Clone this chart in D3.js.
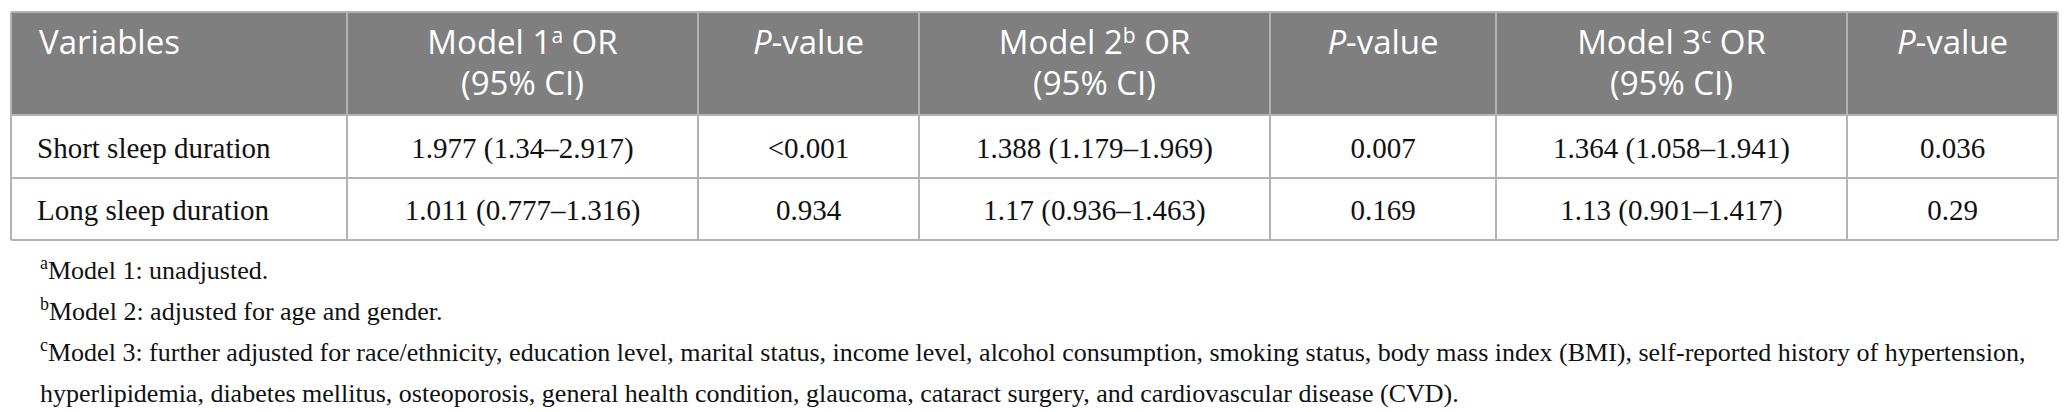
<!DOCTYPE html>
<html>
<head>
<meta charset="utf-8">
<script src="https://cdn.jsdelivr.net/npm/d3@7"></script>
<style>
  body { margin: 0; background: #fff; }
  svg { display: block; }
</style>
</head>
<body>
<svg id="tbl"></svg>
<script>
/* Odds ratios of sleep duration, three adjustment models */

// ---- data ----
const variables = ["Short sleep duration", "Long sleep duration"];
const model1OR = ["1.977 (1.34\u20132.917)", "1.011 (0.777\u20131.316)"];
const model1P = ["<0.001", "0.934"];
const model2OR = ["1.388 (1.179\u20131.969)", "1.17 (0.936\u20131.463)"];
const model2P = ["0.007", "0.169"];
const model3OR = ["1.364 (1.058\u20131.941)", "1.13 (0.901\u20131.417)"];
const model3P = ["0.036", "0.29"];

const headers = [
  { main: "Variables" },
  { main: "Model 1", sup: "a", rest: " OR", line2: "(95% CI)" },
  { italic: "P", main: "-value" },
  { main: "Model 2", sup: "b", rest: " OR", line2: "(95% CI)" },
  { italic: "P", main: "-value" },
  { main: "Model 3", sup: "c", rest: " OR", line2: "(95% CI)" },
  { italic: "P", main: "-value" }
];

const footnotes = [
  { sup: "a", text: "Model 1: unadjusted." },
  { sup: "b", text: "Model 2: adjusted for age and gender." },
  { sup: "c", text: "Model 3: further adjusted for race/ethnicity, education level, marital status, income level, alcohol consumption, smoking status, body mass index (BMI), self-reported history of hypertension," },
  { sup: "", text: "hyperlipidemia, diabetes mellitus, osteoporosis, general health condition, glaucoma, cataract surgery, and cardiovascular disease (CVD)." }
];

// ---- layout ----
let width = 2071,
    height = 412;
const tableLeft = 11,
      colWidths = [336, 351, 221, 351, 226, 351, 211],
      rowEdges = [12, 115, 178, 240],
      headFill = "#7f7f7f",
      lineColor = "#b3b3b3",
      headFont = "'Open Sans', 'DejaVu Sans', sans-serif",
      bodyFont = "'Liberation Serif', 'DejaVu Serif', serif";

const colEdges = [tableLeft, ...d3.cumsum(colWidths).map(d => d + tableLeft)];
const tableRight = colEdges[colEdges.length - 1];

const rows = variables.map((v, i) =>
  [v, model1OR[i], model1P[i], model2OR[i], model2P[i], model3OR[i], model3P[i]]);

const x = d3.scaleOrdinal().domain(d3.range(colWidths.length + 1)).range(colEdges);
const y = d3.scaleOrdinal().domain(d3.range(rowEdges.length)).range(rowEdges);

const svg = d3.select("#tbl")
  .attr("width", width)
  .attr("height", height);

// header background
svg.append("rect")
  .attr("x", tableLeft)
  .attr("y", y(0))
  .attr("width", tableRight - tableLeft)
  .attr("height", y(1) - y(0))
  .attr("fill", headFill);

// header text
const head = svg.append("g")
  .attr("font-family", headFont)
  .attr("font-size", "33px")
  .attr("fill", "#fff");

headers.forEach((h, c) => {
  const left = c === 0;
  const cx = left ? x(c) + 28 : (x(c) + x(c + 1)) / 2;
  const t = head.append("text")
    .attr("x", cx)
    .attr("y", y(0) + 42)
    .attr("text-anchor", left ? "start" : "middle");
  if (h.italic) t.append("tspan").attr("font-style", "italic").text(h.italic);
  t.append("tspan").text(h.main);
  if (h.sup) {
    t.append("tspan").attr("font-size", "21px").attr("dy", "-11").text(h.sup);
    t.append("tspan").attr("dy", "11").text(h.rest);
  }
  if (h.line2) {
    head.append("text")
      .attr("x", cx)
      .attr("y", y(0) + 83)
      .attr("text-anchor", "middle")
      .text(h.line2);
  }
});

// body cells
const body = svg.append("g")
  .attr("font-family", bodyFont)
  .attr("font-size", "29px")
  .attr("fill", "#111");

rows.forEach((r, i) => {
  const yMid = (y(i + 1) + y(i + 2)) / 2;
  body.selectAll(null)
    .data(r)
    .join("text")
    .attr("x", (d, c) => c === 0 ? x(c) + 26 : (x(c) + x(c + 1)) / 2)
    .attr("y", yMid + 11)
    .attr("text-anchor", (d, c) => c === 0 ? "start" : "middle")
    .text(d => d);
});

// grid lines
const grid = svg.append("g")
  .attr("stroke", lineColor)
  .attr("stroke-width", 2)
  .attr("fill", "none");

grid.selectAll("line.h")
  .data(rowEdges)
  .join("line")
  .attr("class", "h")
  .attr("x1", tableLeft)
  .attr("x2", tableRight)
  .attr("y1", d => d)
  .attr("y2", d => d);

grid.selectAll("line.v")
  .data(colEdges)
  .join("line")
  .attr("class", "v")
  .attr("x1", d => d)
  .attr("x2", d => d)
  .attr("y1", y(0))
  .attr("y2", y(rowEdges.length - 1));

// footnotes
const notes = svg.append("g")
  .attr("font-family", bodyFont)
  .attr("font-size", "26px")
  .attr("fill", "#111");

footnotes.forEach((f, i) => {
  const t = notes.append("text")
    .attr("x", 40)
    .attr("y", 279 + i * 41);
  if (f.sup) t.append("tspan").attr("font-size", "18px").attr("dy", "-10").text(f.sup);
  t.append("tspan").attr("dy", f.sup ? "10" : null).text(f.text);
});
</script>
</body>
</html>
